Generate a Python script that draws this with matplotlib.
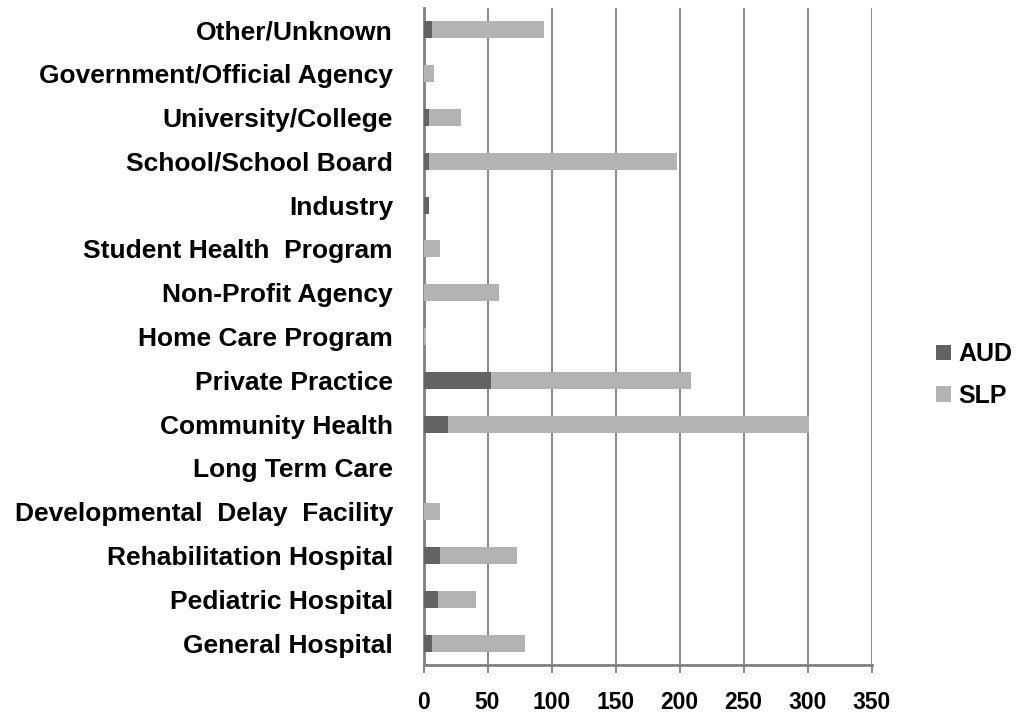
import numpy as np
import matplotlib.pyplot as plt

plt.rcParams['font.family'] = ['Liberation Sans', 'DejaVu Sans']
plt.rcParams['font.weight'] = 'bold'

categories = ["General Hospital", "Pediatric Hospital", "Rehabilitation Hospital",
              "Developmental  Delay  Facility", "Long Term Care", "Community Health",
              "Private Practice", "Home Care Program", "Non-Profit Agency",
              "Student Health  Program", "Industry", "School/School Board",
              "University/College", "Government/Official Agency", "Other/Unknown"]
aud = [7, 11, 13, 0, 0, 19, 53, 0, 0, 0, 4, 4, 4, 0, 7]
slp = [72, 30, 60, 13, 0, 282, 156, 2, 59, 13, 0, 194, 25, 8, 87]
xticks = [0, 50, 100, 150, 200, 250, 300, 350]

fig = plt.figure(figsize=(10.21, 7.24), dpi=100)
ax = fig.add_axes([0.4148, 0.0815, 0.4388, 0.9075])

y = np.arange(len(categories))
ax.barh(y, aud, height=0.39, color="#636363", label="AUD", zorder=3)
ax.barh(y, slp, left=aud, height=0.39, color="#b3b3b3", label="SLP", zorder=3)

ax.set_xlim(0, 350)
ax.set_ylim(-0.5, len(categories) - 0.5)
ax.set_xticks(xticks)
ax.set_yticks(y)
ax.set_yticklabels(categories)
ax.xaxis.grid(True, color="#8c8c8c", linewidth=1.5, zorder=0)

for s in ["top", "right"]:
    ax.spines[s].set_visible(False)
ax.spines["left"].set_color("#808080")
ax.spines["left"].set_linewidth(2)
ax.spines["bottom"].set_color("#808080")
ax.spines["bottom"].set_linewidth(2)

ax.tick_params(axis="x", length=6, width=1.5, color="#8c8c8c", pad=13, labelsize=16.5)
ax.tick_params(axis="y", length=0, pad=22, labelsize=19)

fig.legend(loc="center left", bbox_to_anchor=(0.895, 0.482), frameon=False,
           fontsize=18, handlelength=0.6, handleheight=0.6, handletextpad=0.3,
           labelspacing=0.7)

plt.savefig("out.png", dpi=100)
